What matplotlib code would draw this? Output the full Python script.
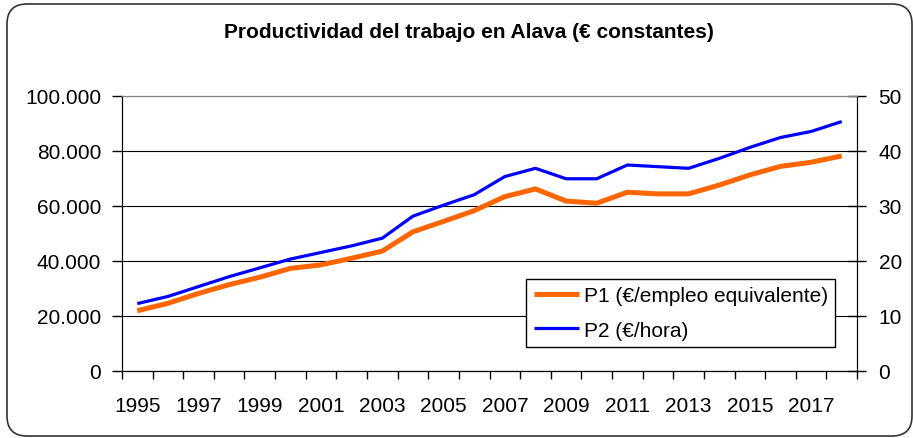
import matplotlib
matplotlib.use('Agg')
import matplotlib.pyplot as plt
from matplotlib.patches import FancyBboxPatch
from matplotlib.ticker import FuncFormatter, FixedLocator

plt.rcParams['font.family'] = ['Liberation Sans', 'DejaVu Sans']

# datos
years = list(range(1995, 2019))
p1 = [21800, 24500, 28100, 31300, 34000, 37200, 38500, 40900, 43500, 50500, 54300, 58200,
      63300, 66100, 61700, 60900, 64900, 64300, 64300, 67500, 71200, 74300, 75800, 78100]
p2 = [12.2, 13.5, 15.3, 17.1, 18.7, 20.3, 21.5, 22.7, 24.1, 28.1, 30.1, 32.0,
      35.3, 36.8, 34.9, 34.9, 37.4, 37.1, 36.8, 38.6, 40.6, 42.4, 43.5, 45.3]
left_ticks = [0, 20000, 40000, 60000, 80000, 100000]
right_ticks = [0, 10, 20, 30, 40, 50]
title = 'Productividad del trabajo en Alava (€ constantes)'
label1 = 'P1 (€/empleo equivalente)'
label2 = 'P2 (€/hora)'

fig = plt.figure(figsize=(9.13, 4.39), dpi=100)
ax = fig.add_axes([0.1336, 0.1533, 0.8051, 0.6264])
ax2 = ax.twinx()

x = list(range(len(years)))
l1, = ax.plot(x, p1, color='#FF6600', lw=3.6, solid_capstyle='butt', label=label1)
l2, = ax2.plot(x, p2, color='#0000FF', lw=2.3, solid_capstyle='butt', label=label2)

# ejes
ax.set_xlim(-0.5, len(years) - 0.5)
ax.set_ylim(0, 100000)
ax2.set_ylim(0, 50)
ax.set_yticks(left_ticks)
ax2.set_yticks(right_ticks)
ax.yaxis.set_major_formatter(FuncFormatter(lambda v, p: f'{int(v):,}'.replace(',', '.')))

ax.xaxis.set_major_locator(FixedLocator([i - 0.5 for i in range(len(years) + 1)]))
ax.xaxis.set_minor_locator(FixedLocator(x[::2]))
ax.set_xticklabels([], minor=False)
ax.set_xticklabels([str(y) for y in years[::2]], minor=True)
ax.tick_params(axis='x', which='major', direction='out', length=6, width=1, color='black')
ax.tick_params(axis='x', which='minor', length=0, pad=18, labelsize=15)
ax.tick_params(axis='y', direction='out', length=7, width=1, pad=8, labelsize=15)
ax2.tick_params(axis='y', direction='inout', length=13, width=1, pad=9, labelsize=15)

ax.grid(axis='y', color='black', lw=0.8)
ax.get_ygridlines()[-1].set_color('#808080')
ax.set_axisbelow(True)

for a in (ax, ax2):
    a.spines['top'].set_color('#808080')
    a.spines['left'].set_color('black')
    a.spines['right'].set_color('black')
    a.spines['bottom'].set_color('black')

leg = ax2.legend(handles=[l1, l2], loc='lower right', bbox_to_anchor=(0.970, 0.086),
                 fontsize=15, frameon=True, fancybox=False, framealpha=1, edgecolor='black',
                 handlelength=2.2, handletextpad=0.2, borderpad=0.35, labelspacing=0.75,
                 borderaxespad=0)
leg.get_frame().set_linewidth(1.0)

fig.text(0.514, 0.927, title, fontsize=15, fontweight='bold', ha='center', va='center')

# marco redondeado
frame = FancyBboxPatch((0.07, 0.02), 9.05, 4.32, boxstyle='round,pad=0,rounding_size=0.2',
                       transform=fig.dpi_scale_trans, fill=False, edgecolor='#333333', lw=1.2)
fig.patches.append(frame)

fig.savefig('out.png', dpi=100)
